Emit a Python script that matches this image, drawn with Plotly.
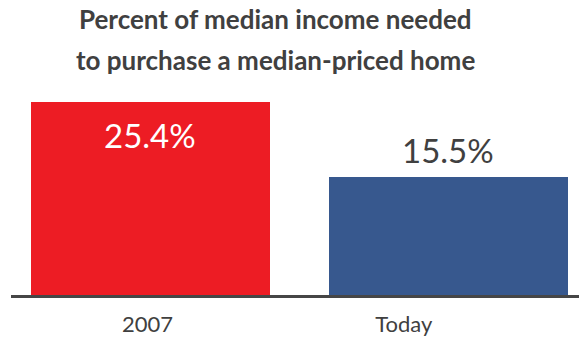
import plotly.graph_objects as go

categories = ["2007", "Today"]
values = [25.4, 15.5]
value_labels = ["25.4%", "15.5%"]
bar_colors = ["#ED1C24", "#37588E"]
label_colors = ["#FFFFFF", "#404040"]
positions = [0, 1]
tick_positions = [-0.01, 0.85]
title_lines = ["Percent of median income needed", "to purchase a median-priced home"]

MARGIN_T, MARGIN_B, H = 90, 44, 339
plot_h = H - MARGIN_T - MARGIN_B

fig = go.Figure()
fig.add_trace(go.Bar(
    x=positions, y=values, width=0.802,
    marker=dict(color=bar_colors, line=dict(width=0)),
    hoverinfo="skip", showlegend=False,
))

for xp, v, lab, col in zip(positions, values, value_labels, label_colors):
    inside = col == "#FFFFFF"
    fig.add_annotation(
        x=xp, y=v, xref="x", yref="y", text=lab, showarrow=False,
        yanchor="top" if inside else "bottom",
        yshift=-11 if inside else 5,
        font=dict(family="Lato", size=33, color=col),
    )

# title lines (pixel tops from page top)
for line, top_px in zip(title_lines, [1, 42]):
    fig.add_annotation(
        x=270/579, xref="paper", xanchor="center",
        y=1 + (MARGIN_T - top_px) / plot_h, yref="paper", yanchor="top",
        text="<b>" + line + "</b>", showarrow=False,
        font=dict(family="Lato", size=26, color="#404040"),
    )

fig.update_layout(
    width=579, height=H,
    margin=dict(l=11, r=0, t=MARGIN_T, b=MARGIN_B),
    paper_bgcolor="white", plot_bgcolor="white",
    xaxis=dict(
        range=[-0.468, 1.438], showgrid=False, zeroline=False,
        showline=True, linecolor="#464646", linewidth=3,
        tickvals=tick_positions, ticktext=categories, ticks="",
        tickfont=dict(family="Lato", size=22, color="#404040"),
        ticklabelstandoff=8,
        fixedrange=True,
    ),
    yaxis=dict(range=[0, 27], visible=False, fixedrange=True),
    bargap=0,
)

fig.write_html("out.html", config={"displayModeBar": False})
